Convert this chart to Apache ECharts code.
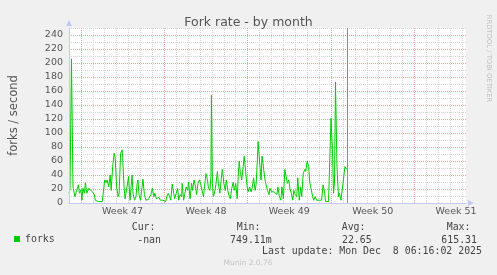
<!DOCTYPE html>
<html>
<head>
<meta charset="utf-8">
<script src="https://cdn.jsdelivr.net/npm/echarts@6/dist/echarts.min.js"></script>
<style>
html,body{margin:0;padding:0;background:#f0f0f0;}
#c{width:497px;height:275px;}
</style>
</head>
<body>
<div id="c"></div>
<script>
// time in hours since Sun 16 Nov 00:00 (plot start), values in forks/second
const hours = [0,2,5,8,12,16,19,21,24,26,28,31,33,36,40,44,47,51,53,56,59,63,67,69,71,72,75,77,80,83,85,88,91,93,96,99,101,104,107,108,111,113,116,117,120,123,125,127,129,132,135,137,139,141,144,147,149,152,155,157,160,163,165,168,171,173,176,179,181,184,187,189,192,195,197,200,203,205,208,211,213,216,219,221,224,227,228,231,233,236,239,241,244,247,249,252,255,257,260,263,265,268,271,273,276,279,281,284,286,287,289,291,293,296,299,301,304,307,309,312,315,317,320,323,325,328,331,333,336,339,341,343,345,348,351,353,356,359,361,364,367,369,372,375,377,380,381,384,387,389,392,395,397,400,403,405,408,411,413,416,419,421,424,427,429,432,435,437,440,443,445,448,451,453,456,459,461,464,467,469,472,475,477,480,483,485,488,491,493,496,499,501,504,507,509,512,515,517,520,523,525,528,531,533,535,537,540,543,545,548,551,553,556,559,560];
const forks = [14,19,206,23,9,19,26,14,19,4,21,14,29,14,21,23,16,12,4,6,2,1,2,4,2,33,29,33,23,40,18,52,71,65,23,9,14,71,76,65,23,6,4,23,38,4,4,40,14,4,9,26,33,12,4,21,34,12,4,6,5,6,12,21,9,14,6,4,8,4,2,4,6,2,9,14,12,4,27,14,6,14,21,4,12,9,28,4,12,23,18,30,6,28,18,33,23,12,28,33,28,30,9,23,42,33,21,18,38,154,28,9,14,26,45,28,14,36,48,28,18,33,18,9,6,21,30,18,28,6,38,60,45,33,52,67,45,23,16,23,16,21,36,18,26,67,88,60,33,67,50,33,26,18,12,21,16,18,16,18,12,23,9,4,23,6,48,40,28,33,21,14,4,18,12,9,36,4,23,9,42,48,45,60,52,30,30,9,4,9,4,6,4,2,4,26,16,2,4,2,4,121,76,14,28,173,52,9,14,4,2,33,52,50,48];
const weekLabels = ['Week 47','Week 48','Week 49','Week 50','Week 51'];
const weekStarts = [24,192,360,528,696];
const nowHour = 561;
const statLabels = ['Cur:','Min:','Avg:','Max:'];
const statValues = ['-nan','749.11m','22.65','615.31'];

const chart = echarts.init(document.getElementById('c'), null, {renderer:'canvas'});
const axisBlue = '#c4c8f4';
const txt = '#555';
const grey = '#d4d4d4';
const red = '#e8a0a0';
const sans = '"DejaVu Sans", sans-serif';
const mono = '"DejaVu Sans Mono", monospace';
const data = hours.map((h,i)=>[h, forks[i]]);

// day grid colours: red on week starts (every 7th day from day 1)
const dayColors = [grey, red, grey, grey, grey, grey, grey];

const headerX = [131.7, 236.7, 341.7, 446.7];
const valueRight = [161, 271.7, 371.7, 477];
const graphics = [];
statLabels.forEach((s,i)=>graphics.push({type:'text', style:{text:s, x:headerX[i], y:227.3, font:'9.9px '+mono, fill:'#444', textAlign:'left', textVerticalAlign:'middle'}}));
statValues.forEach((s,i)=>graphics.push({type:'text', style:{text:s, x:valueRight[i], y:240, font:'9.9px '+mono, fill:'#444', textAlign:'right', textVerticalAlign:'middle'}}));
graphics.push({type:'text', style:{text:'Last update: Mon Dec  8 06:16:02 2025', x:482, y:251.7, font:'9.9px '+mono, fill:'#444', textAlign:'right', textVerticalAlign:'middle'}});
graphics.push({type:'text', style:{text:'Munin 2.0.76', x:248, y:263.3, font:'7.5px '+sans, fill:'#c4c4c4', textAlign:'center', textVerticalAlign:'middle'}});
graphics.push({type:'text', x:488.5, y:58.5, rotation:-Math.PI/2, style:{text:'RRDTOOL / TOBI OETIKER', x:0, y:0, font:'6.8px '+sans, fill:'#c0c0c0', textAlign:'center', textVerticalAlign:'middle'}});

chart.setOption({
  animation:false,
  backgroundColor:'#f0f0f0',
  title:{text:'Fork rate - by month', left:'center', top:11, textStyle:{fontFamily:sans, fontSize:12.5, fontWeight:'normal', color:txt}},
  grid:{left:66, right:31, top:28, bottom:72, show:true, backgroundColor:'#ffffff', borderWidth:0},
  legend:{data:['forks'], left:14, top:234, padding:0, icon:'rect', itemWidth:6, itemHeight:6, textStyle:{fontFamily:mono, fontSize:9.9, color:'#444'}},
  xAxis:[
    {type:'value', min:0, max:800, interval:24, position:'bottom', z:1,
     axisLine:{show:false}, axisTick:{show:false}, axisLabel:{show:false},
     splitLine:{show:true, showMinLine:true, showMaxLine:false, lineStyle:{color:dayColors, type:[1,1], width:1}}},
    {type:'value', min:0, max:800, interval:12, position:'bottom', offset:0, z:5,
     axisLine:{show:true, lineStyle:{color:axisBlue}, symbol:['none','triangle'], symbolSize:[6,6], symbolOffset:[0,5]},
     axisTick:{show:false}, splitLine:{show:false},
     axisLabel:{show:true, margin:4, fontFamily:sans, fontSize:9.5, color:txt,
       formatter:function(v){const i=weekStarts.findIndex(s=>s+84===v);return i>=0?weekLabels[i]:'';}}}
  ],
  yAxis:[
    {type:'value', min:0, max:250, interval:10, position:'left', z:1,
     axisLine:{show:false}, axisTick:{show:false}, axisLabel:{show:false},
     splitLine:{show:true, showMinLine:true, showMaxLine:true, lineStyle:{color:[red, grey], type:[1,1], width:1}}},
    {type:'value', min:0, max:250, interval:20, position:'left', z:5,
     name:'forks / second', nameLocation:'middle', nameGap:49,
     nameTextStyle:{fontFamily:sans, fontSize:11.5, color:txt},
     axisLine:{show:true, lineStyle:{color:axisBlue}, symbol:['none','triangle'], symbolSize:[6,6], symbolOffset:[0,5]},
     axisTick:{show:false},
     axisLabel:{margin:6, fontFamily:sans, fontSize:9.5, color:txt, showMaxLabel:false},
     splitLine:{show:false}}
  ],
  graphic:graphics,
  series:[
    {name:'forks', type:'line', xAxisIndex:0, yAxisIndex:1, data:data, showSymbol:false, symbol:'none', z:3,
     lineStyle:{color:'#00cc00', width:1}, itemStyle:{color:'#00cc00'},
     markLine:{silent:true, symbol:'none', animation:false, label:{show:false},
       lineStyle:{color:'#8c8c8c', type:'solid', width:1},
       data:[{xAxis:nowHour}]}}
  ]
});
</script>
</body>
</html>
